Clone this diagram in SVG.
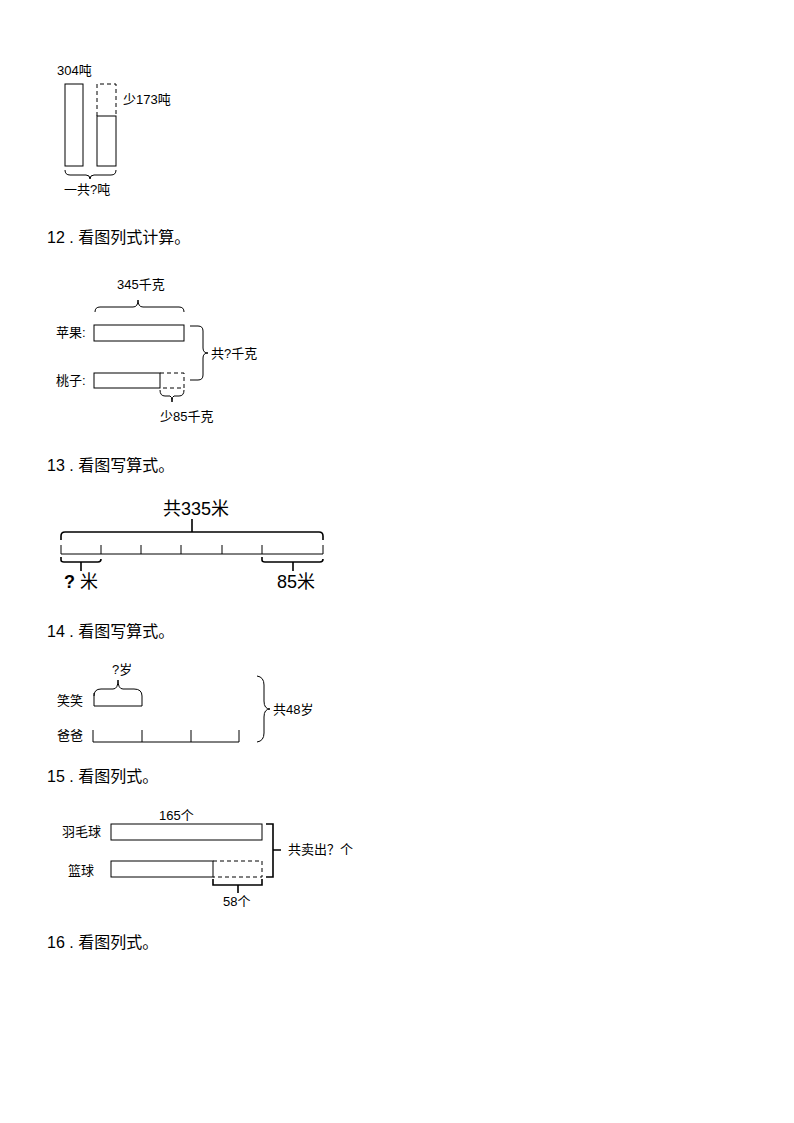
<svg xmlns="http://www.w3.org/2000/svg" width="794" height="1123" viewBox="0 0 794 1123">
<style>
text{font-family:"Liberation Sans","Noto Sans CJK SC",sans-serif;fill:#000}
.s{font-size:13px}
.h{font-size:16px}
.l{fill:none;stroke:#000;stroke-width:1}
.d{fill:none;stroke:#000;stroke-width:1;stroke-dasharray:4,3}
.b{fill:none;stroke:#000;stroke-width:1.6}
</style>
<rect width="794" height="1123" fill="#fff"/>
<g id="q11">
<text class="s" x="57" y="75">304吨</text>
<rect class="l" x="65" y="84" width="18" height="82"/>
<path class="d" d="M97 116V84H116V116"/>
<rect class="l" x="97" y="116" width="19" height="50"/>
<text class="s" x="123" y="104">少173吨</text>
<path class="l" d="M65 170Q65 175 70 175H86Q90 175 90 179Q90 175 94 175H111Q116 175 116 170"/>
<text class="s" x="64" y="194">一共?吨</text>
</g>
<text class="h" x="47" y="243">12 . 看图列式计算。</text>
<g id="q12">
<text class="s" x="117" y="289">345千克</text>
<path class="l" d="M95 312Q95 307 100 307H133Q138 307 138 300Q138 307 143 307H179Q184 307 184 312"/>
<text class="s" x="56" y="337">苹果:</text>
<rect class="l" x="94" y="325" width="90" height="16"/>
<text class="s" x="56" y="385">桃子:</text>
<rect class="l" x="94" y="373" width="66" height="15"/>
<path class="d" d="M160 373H184V388H160"/>
<path class="l" d="M190 326H198Q203 326 203 331V348Q203 353 208 353Q203 353 203 358V375Q203 380 198 380H190"/>
<text class="s" x="211" y="358">共?千克</text>
<path class="l" d="M160 390Q160 396 165 396H170Q172 396 172 402Q172 396 174 396H179Q184 396 184 390"/>
<text class="s" x="160" y="421">少85千克</text>
</g>
<text class="h" x="47" y="471">13 . 看图写算式。</text>
<g id="q13">
<text x="163" y="515" style="font-size:18px">共335米</text>
<path class="b" d="M61 540V536Q61 532 65 532H192V519M192 532H319Q323 532 323 536V540"/>
<path class="l" d="M61 554H323M61 545V554M101 545V554M141 545V554M181 545V554M222 545V554M262 545V554M323 545V554"/>
<path class="b" d="M61 557V560Q61 562 64 562H98Q101 562 101 559M81 562V571"/>
<path class="b" d="M262 557V560Q262 562 265 562H320Q323 562 323 559M293 562V571"/>
<text x="64" y="588" style="font-size:18px;font-weight:bold">?</text>
<text x="80" y="588" style="font-size:18px">米</text>
<text x="277" y="588" style="font-size:18px">85米</text>
</g>
<text class="h" x="47" y="637">14 . 看图写算式。</text>
<g id="q14">
<text class="s" x="112" y="674">?岁</text>
<path class="l" d="M94 693V706H142V696Q142 689 134 689H123Q118 689 118 680Q118 689 113 689H101Q94 689 94 696"/>
<text class="s" x="57" y="705">笑笑</text>
<text class="s" x="57" y="740">爸爸</text>
<path class="l" d="M93 742H239M93 730V742M142 730V742M191 730V742M239 730V742"/>
<path class="l" d="M257 676Q264 677 264 685V701Q264 709 270 709Q264 709 264 717V733Q264 741 257 742"/>
<text class="s" x="273" y="714">共48岁</text>
</g>
<text class="h" x="47" y="782">15 . 看图列式。</text>
<g id="q15">
<text class="s" x="159" y="820">165个</text>
<text class="s" x="62" y="836">羽毛球</text>
<rect class="l" x="111" y="824" width="151" height="16"/>
<text class="s" x="68" y="875">篮球</text>
<rect class="l" x="111" y="861" width="102" height="16"/>
<path class="d" d="M213 861H262V877H213"/>
<path class="b" d="M266 824H273V850H281M273 850V877H266"/>
<text class="s" x="288" y="854">共卖出？个</text>
<path class="b" d="M213 879V885H262V879M238 885V893"/>
<text class="s" x="223" y="906">58个</text>
</g>
<text class="h" x="47" y="948">16 . 看图列式。</text>
</svg>
